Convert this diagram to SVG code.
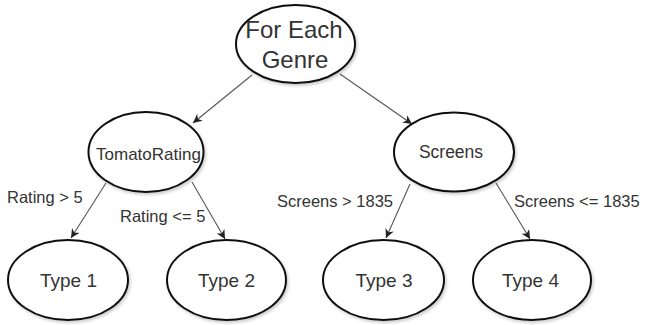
<svg xmlns="http://www.w3.org/2000/svg" width="649" height="325" viewBox="0 0 649 325">
  <defs>
    <marker id="arrow" viewBox="0 0 10 10" refX="10" refY="5" markerWidth="9" markerHeight="9" markerUnits="userSpaceOnUse" orient="auto">
      <path d="M0,0 L10,5 L0,10 L3,5 Z" fill="#222"/>
    </marker>
    <filter id="shadow" x="-20%" y="-20%" width="140%" height="140%">
      <feDropShadow dx="1.5" dy="2" stdDeviation="1.5" flood-color="#000" flood-opacity="0.2"/>
    </filter>
  </defs>
  <style>
    .node ellipse { fill: #fff; stroke: #111; stroke-width: 2; filter: url(#shadow); }
    .node text { font-family: "Liberation Sans", Arial, sans-serif; fill: #333; text-anchor: middle; }
    .edge { stroke: #555; stroke-width: 1.1; fill: none; marker-end: url(#arrow); }
    .lbl { font-family: "Liberation Sans", Arial, sans-serif; fill: #333; font-size: 16.5px; }
  </style>
  <rect width="649" height="325" fill="#fff"/>
  <g id="connectors">
    <line class="edge" x1="252" y1="75" x2="193" y2="123"/>
    <line class="edge" x1="340" y1="74" x2="412" y2="124"/>
    <line class="edge" x1="106" y1="183" x2="71" y2="238"/>
    <line class="edge" x1="192" y1="182" x2="225" y2="239"/>
    <line class="edge" x1="410" y1="184" x2="386" y2="238"/>
    <line class="edge" x1="496" y1="183" x2="530" y2="239"/>
    <text class="lbl" x="7" y="203">Rating &gt; 5</text>
    <text class="lbl" x="120" y="222">Rating &lt;= 5</text>
    <text class="lbl" x="277" y="207" font-size="17">Screens &gt; 1835</text>
    <text class="lbl" x="514" y="207" font-size="17">Screens &lt;= 1835</text>
  </g>
  <g id="node-genre" class="node">
    <ellipse cx="295.5" cy="44" rx="59.5" ry="39"/>
    <text x="294" y="38" font-size="24">For Each</text>
    <text x="295" y="68" font-size="24">Genre</text>
  </g>
  <g id="node-tomato" class="node">
    <ellipse cx="146" cy="152" rx="57.5" ry="40"/>
    <text x="148.5" y="160" font-size="17">TomatoRating</text>
  </g>
  <g id="node-screens" class="node">
    <ellipse cx="454" cy="152" rx="60" ry="39.5"/>
    <text x="451" y="158" font-size="17.5">Screens</text>
  </g>
  <g id="node-type1" class="node">
    <ellipse cx="68" cy="280" rx="60" ry="40"/>
    <text x="68.5" y="287" font-size="19">Type 1</text>
  </g>
  <g id="node-type2" class="node">
    <ellipse cx="226.5" cy="280" rx="59.5" ry="40"/>
    <text x="226.5" y="287" font-size="19">Type 2</text>
  </g>
  <g id="node-type3" class="node">
    <ellipse cx="383.5" cy="280" rx="60.5" ry="40"/>
    <text x="384" y="287" font-size="19">Type 3</text>
  </g>
  <g id="node-type4" class="node">
    <ellipse cx="532" cy="280" rx="59" ry="40"/>
    <text x="530.5" y="287" font-size="19">Type 4</text>
  </g>
</svg>
